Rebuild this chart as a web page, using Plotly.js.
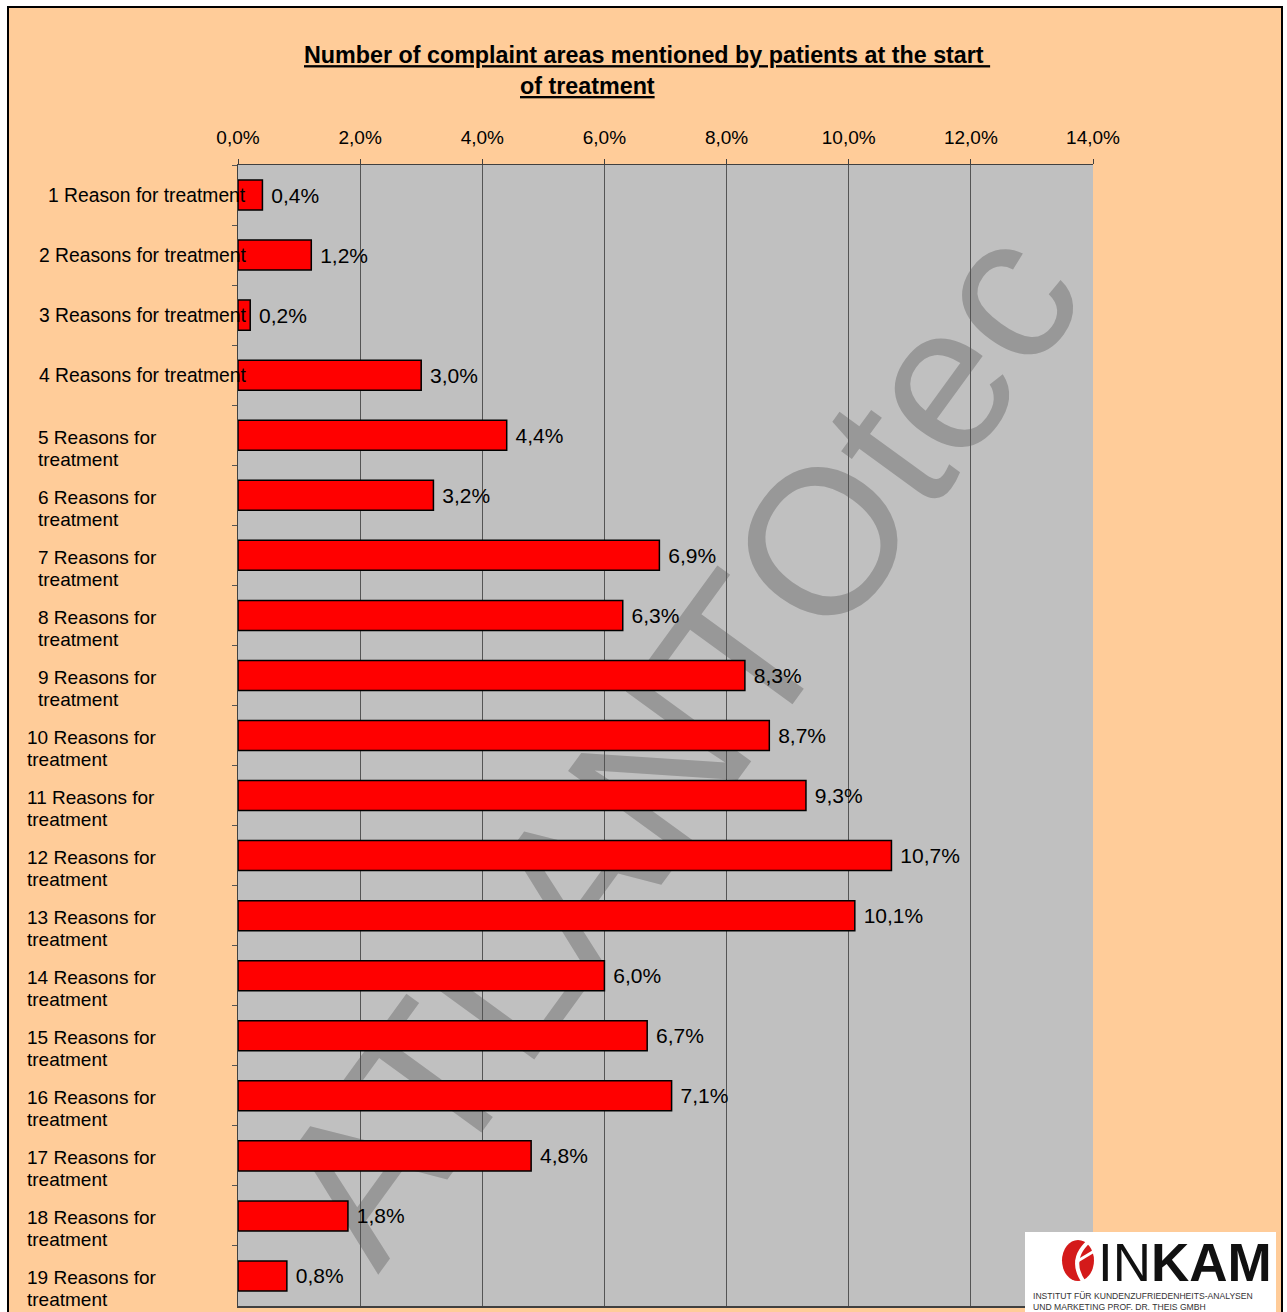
<!DOCTYPE html>
<html>
<head>
<meta charset="utf-8">
<script src="https://cdn.plot.ly/plotly-3.0.1.min.js"></script>
<style>
  html, body { margin:0; padding:0; background:#ffffff; overflow:hidden; width:1287px; height:1312px; }
  #frame { position:absolute; left:7px; top:6px; width:1272px; height:1400px; border:2px solid #000; background:#FFCC99; }
  #chart { position:absolute; left:0; top:0; width:1287px; height:1312px; }
</style>
</head>
<body>
<div id="frame"></div>
<div id="chart"></div>
<script>
// ---- data ----
const categories = [
  '1 Reason for treatment', '2 Reasons for treatment', '3 Reasons for treatment',
  '4 Reasons for treatment', '5 Reasons for treatment', '6 Reasons for treatment',
  '7 Reasons for treatment', '8 Reasons for treatment', '9 Reasons for treatment',
  '10 Reasons for treatment', '11 Reasons for treatment', '12 Reasons for treatment',
  '13 Reasons for treatment', '14 Reasons for treatment', '15 Reasons for treatment',
  '16 Reasons for treatment', '17 Reasons for treatment', '18 Reasons for treatment',
  '19 Reasons for treatment'
];
const shares = [0.4, 1.2, 0.2, 3.0, 4.4, 3.2, 6.9, 6.3, 8.3, 8.7, 9.3, 10.7, 10.1, 6.0, 6.7, 7.1, 4.8, 1.8, 0.8];
const titleLine1 = 'Number of complaint areas mentioned by patients at the start\u00a0';
const titleLine2 = 'of treatment';
const watermark = 'ATLANTOtec';
const logoText = 'IN<b>KAM</b>';
const logoSub1 = 'INSTITUT FÜR KUNDENZUFRIEDENHEITS-ANALYSEN';
const logoSub2 = 'UND MARKETING PROF. DR. THEIS GMBH';

// ---- layout geometry ----
const FIG_W = 1287, FIG_H = 1312;
const L = 238, R = 1093, T = 165, B = 1306;
const PW = R - L, PH = B - T;
const px = x => (x - L) / PW;
const py = y => (B - y) / PH;
const FONT = 'Liberation Sans, Arial, Helvetica, sans-serif';

const trace = {
  type: 'bar',
  orientation: 'h',
  x: shares,
  y: categories,
  width: 0.5,
  marker: { color: '#FF0000', line: { color: '#000000', width: 1.5 } },
  texttemplate: '\u00a0%{x:.1f}%',
  textposition: 'outside',
  textfont: { family: FONT, size: 21, color: '#000000' },
  constraintext: 'none',
  cliponaxis: false,
  hoverinfo: 'skip'
};

// category labels as annotations (left-aligned wrapped text like the source)
const annotations = [];
categories.forEach((c, i) => {
  if (i < 4) {
    annotations.push({
      xref: 'paper', yref: 'y', x: px(247), y: c, xanchor: 'right', yanchor: 'middle',
      text: c, showarrow: false, borderpad: 0,
      font: { family: FONT, size: 19.3, color: '#000' }
    });
  } else {
    const first = c.replace(' treatment', '');
    const xLeft = (i + 1) < 10 ? 37 : 26;
    annotations.push({
      xref: 'paper', yref: 'y', x: px(xLeft), y: c, xanchor: 'left', yanchor: 'middle',
      yshift: -2, text: first, showarrow: false, borderpad: 0,
      font: { family: FONT, size: 19, color: '#000' }
    });
    annotations.push({
      xref: 'paper', yref: 'y', x: px(xLeft), y: c, xanchor: 'left', yanchor: 'middle',
      yshift: -24, text: 'treatment', showarrow: false, borderpad: 0,
      font: { family: FONT, size: 19, color: '#000' }
    });
  }
});

// title second line
annotations.push({
  xref: 'paper', yref: 'paper', x: px(519), y: py(86), xanchor: 'left', yanchor: 'middle',
  text: '<b><u>' + titleLine2 + '</u></b>', showarrow: false, borderpad: 0,
  font: { family: FONT, size: 23.3, color: '#000' }
});

// logo texts
annotations.push({
  xref: 'paper', yref: 'paper', x: px(1097), y: py(1262), xanchor: 'left', yanchor: 'middle',
  text: logoText, showarrow: false, borderpad: 0,
  font: { family: FONT, size: 53, color: '#111' }
});
annotations.push({
  xref: 'paper', yref: 'paper', x: px(1032), y: py(1296), xanchor: 'left', yanchor: 'middle',
  text: logoSub1, showarrow: false, borderpad: 0,
  font: { family: FONT, size: 8.6, color: '#333' }
});
annotations.push({
  xref: 'paper', yref: 'paper', x: px(1032), y: py(1307), xanchor: 'left', yanchor: 'middle',
  text: logoSub2, showarrow: false, borderpad: 0,
  font: { family: FONT, size: 8.6, color: '#333' }
});

const shapes = [
  // watermark (below bars)
  {
    type: 'rect', layer: 'below', xref: 'paper', yref: 'paper',
    x0: px(655), x1: px(665), y0: py(736), y1: py(726),
    line: { width: 0 }, fillcolor: 'rgba(0,0,0,0)',
    label: {
      text: watermark, textangle: -54, textposition: 'middle center',
      font: { family: FONT, size: 207, color: '#989898' }
    }
  },
  // logo white box
  {
    type: 'rect', layer: 'above', xref: 'paper', yref: 'paper',
    x0: px(1025), x1: px(1276), y0: py(1340), y1: py(1232),
    line: { width: 0 }, fillcolor: '#FFFFFF'
  },
  // logo red emblem
  {
    type: 'circle', layer: 'above', xref: 'paper', yref: 'paper',
    x0: px(1062), x1: px(1094), y0: py(1281), y1: py(1240),
    line: { width: 0 }, fillcolor: '#D41A1A'
  },
  {
    type: 'path', layer: 'above', xref: 'paper', yref: 'paper',
    path: 'M ' + px(1093) + ' ' + py(1238) + ' Q ' + px(1066) + ' ' + py(1258) + ' ' + px(1085) + ' ' + py(1284),
    line: { color: '#FFFFFF', width: 4 }
  },
  {
    type: 'path', layer: 'above', xref: 'paper', yref: 'paper',
    path: 'M ' + px(1076) + ' ' + py(1262) + ' L ' + px(1096) + ' ' + py(1250),
    line: { color: '#FFFFFF', width: 3 }
  }
];

const layout = {
  width: FIG_W, height: FIG_H,
  margin: { l: L, r: FIG_W - R, t: T, b: FIG_H - B, pad: 0 },
  paper_bgcolor: 'rgba(0,0,0,0)',
  plot_bgcolor: '#C0C0C0',
  separators: ', ',
  showlegend: false,
  hovermode: false,
  font: { family: FONT, size: 19, color: '#000' },
  title: {
    text: '<b><u>' + titleLine1 + '</u></b>',
    xref: 'container', yref: 'container',
    x: 304 / FIG_W, xanchor: 'left',
    y: 1 - 55 / FIG_H, yanchor: 'middle',
    font: { family: FONT, size: 23.3, color: '#000' }
  },
  xaxis: {
    side: 'top',
    range: [0, 14], tick0: 0, dtick: 2,
    tickformat: '.1f', ticksuffix: '%',
    showgrid: true, gridcolor: '#555555', gridwidth: 1,
    zeroline: false,
    showline: true, linecolor: '#404040', linewidth: 1.5, mirror: true,
    ticks: 'outside', ticklen: 5, tickcolor: '#404040', tickwidth: 1,
    ticklabelstandoff: 7,
    tickfont: { family: FONT, size: 19, color: '#000' },
    fixedrange: true
  },
  yaxis: {
    type: 'category',
    categoryorder: 'array', categoryarray: categories,
    range: [categories.length - 0.5, -0.5],
    showticklabels: false,
    showgrid: false, zeroline: false,
    showline: true, linecolor: '#404040', linewidth: 1.5,
    ticks: 'outside', tickson: 'boundaries', ticklen: 5, tickcolor: '#555555', tickwidth: 1,
    fixedrange: true
  },
  shapes: shapes,
  annotations: annotations
};

Plotly.newPlot('chart', [trace], layout, { staticPlot: true, displayModeBar: false });
</script>
</body>
</html>
